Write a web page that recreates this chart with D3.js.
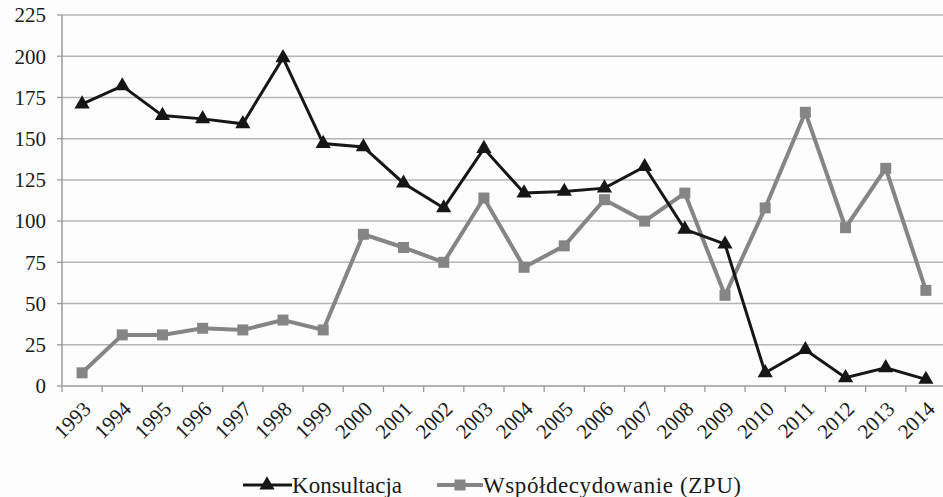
<!DOCTYPE html>
<html>
<head>
<meta charset="utf-8">
<script src="https://d3js.org/d3.v7.min.js"></script>
<style>
  body { margin: 0; background: #fdfdfd; }
</style>
</head>
<body>
<script>
const years = ["1993","1994","1995","1996","1997","1998","1999","2000","2001","2002","2003",
               "2004","2005","2006","2007","2008","2009","2010","2011","2012","2013","2014"];
const konsultacja = [171,182,164,162,159,199,147,145,123,108,144,117,118,120,133,95,86,8,22,5,11,4];
const wspoldecydowanie = [8,31,31,35,34,40,34,92,84,75,114,72,85,113,100,117,55,108,166,96,132,58];
const yTicks = [0,25,50,75,100,125,150,175,200,225];

const width = 943, height = 497;
const plotLeft = 62, plotRight = 946, plotTop = 15, plotBottom = 386;
const serif = "Liberation Serif";

const svg = d3.select("body").append("svg")
    .attr("width", width).attr("height", height)
    .attr("font-family", serif);

const x = d3.scaleBand().domain(years).range([plotLeft, plotRight]);
const y = d3.scaleLinear().domain([0, 225]).range([plotBottom, plotTop]);

// grid
svg.append("g").selectAll("line")
    .data(yTicks.filter(d => d > 0))
    .enter().append("line")
    .attr("x1", plotLeft).attr("x2", plotRight)
    .attr("y1", d => y(d)).attr("y2", d => y(d))
    .attr("stroke", "#b4b4b4").attr("stroke-width", 1.5);

// y axis labels drawn by hand so the font attributes stick
const yAxis = svg.append("g");
yAxis.append("line")
    .attr("x1", plotLeft).attr("x2", plotLeft)
    .attr("y1", plotTop).attr("y2", plotBottom)
    .attr("stroke", "#9a9a9a").attr("stroke-width", 1.5);
yAxis.selectAll("line.yt")
    .data(yTicks)
    .enter().append("line")
    .attr("class", "yt")
    .attr("x1", plotLeft - 5).attr("x2", plotLeft)
    .attr("y1", d => y(d)).attr("y2", d => y(d))
    .attr("stroke", "#9a9a9a").attr("stroke-width", 1.3);
yAxis.selectAll("text")
    .data(yTicks)
    .enter().append("text")
    .attr("x", plotLeft - 16)
    .attr("y", d => y(d))
    .attr("dy", "0.35em")
    .attr("text-anchor", "end")
    .attr("font-family", serif)
    .attr("font-size", 21)
    .attr("fill", "#1a1a1a")
    .text(d => d);

// x axis
const xAxis = svg.append("g");
xAxis.append("line")
    .attr("x1", plotLeft).attr("x2", plotRight)
    .attr("y1", plotBottom).attr("y2", plotBottom)
    .attr("stroke", "#9a9a9a").attr("stroke-width", 1.5);
xAxis.selectAll("line.bt")
    .data(years.concat(["end"]))
    .enter().append("line")
    .attr("class", "bt")
    .attr("x1", (d, i) => plotLeft + i * x.step())
    .attr("x2", (d, i) => plotLeft + i * x.step())
    .attr("y1", plotBottom).attr("y2", plotBottom + 6)
    .attr("stroke", "#9a9a9a").attr("stroke-width", 1.3);
xAxis.selectAll("text")
    .data(years)
    .enter().append("text")
    .attr("transform", d => `translate(${x(d) + x.bandwidth() / 2 + 5},${plotBottom + 19}) rotate(-45)`)
    .attr("text-anchor", "end")
    .attr("dy", "0.35em")
    .attr("font-family", serif)
    .attr("font-size", 21)
    .attr("fill", "#1a1a1a")
    .text(d => d);

const line = d3.line()
    .x((d, i) => x(years[i]) + x.bandwidth() / 2)
    .y(d => y(d));

// series
const grey = "#858585", black = "#161616";
svg.append("path").datum(wspoldecydowanie)
    .attr("d", line).attr("fill", "none")
    .attr("stroke", grey).attr("stroke-width", 4);
svg.append("g").selectAll("rect")
    .data(wspoldecydowanie)
    .enter().append("rect")
    .attr("x", (d, i) => x(years[i]) + x.bandwidth() / 2 - 5.5)
    .attr("y", d => y(d) - 5.5)
    .attr("width", 11).attr("height", 11)
    .attr("fill", grey);

svg.append("path").datum(konsultacja)
    .attr("d", line).attr("fill", "none")
    .attr("stroke", black).attr("stroke-width", 3);
const tri = d3.symbol().type(d3.symbolTriangle).size(100);
svg.append("g").selectAll("path")
    .data(konsultacja)
    .enter().append("path")
    .attr("d", tri)
    .attr("transform", (d, i) => `translate(${x(years[i]) + x.bandwidth() / 2},${y(d)})`)
    .attr("fill", black);

// legend
const legend = svg.append("g").attr("transform", "translate(0,485)");
legend.append("line").attr("x1", 243).attr("x2", 292).attr("y1", 0).attr("y2", 0)
    .attr("stroke", black).attr("stroke-width", 3);
legend.append("path").attr("d", tri).attr("transform", "translate(267,0)").attr("fill", black);
legend.append("text").attr("x", 292).attr("y", 8)
    .attr("textLength", 110)
    .attr("font-family", serif).attr("font-size", 23).attr("fill", "#1a1a1a")
    .text("Konsultacja");
legend.append("line").attr("x1", 437).attr("x2", 483).attr("y1", 0).attr("y2", 0)
    .attr("stroke", grey).attr("stroke-width", 4);
legend.append("rect").attr("x", 454.5).attr("y", -5.5).attr("width", 11).attr("height", 11).attr("fill", grey);
legend.append("text").attr("x", 483).attr("y", 8)
    .attr("textLength", 258)
    .attr("font-family", serif).attr("font-size", 23).attr("fill", "#1a1a1a")
    .text("Współdecydowanie (ZPU)");
</script>
</body>
</html>
